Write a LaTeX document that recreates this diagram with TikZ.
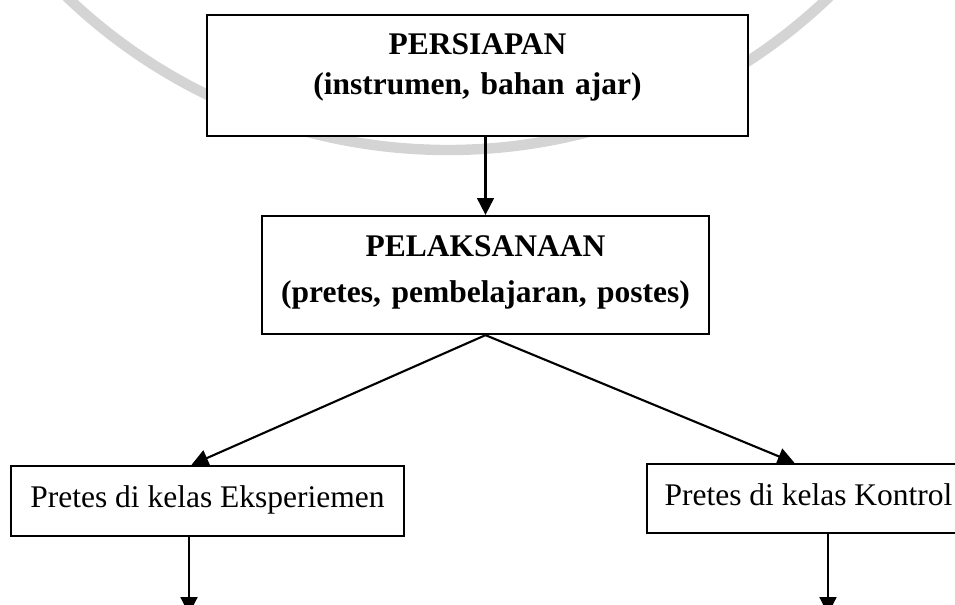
\documentclass[tikz,border=0pt]{standalone}
\usepackage{fontspec}
\setmainfont{Liberation Serif}
\usetikzlibrary{arrows.meta}
\usetikzlibrary{positioning}

\tikzset{
  kotak/.style={draw, line width=1.6pt, fill=white, inner sep=0pt, font=\fontsize{22.4}{28.4}\selectfont},
  judul/.style={kotak, align=center},
  panah/.style={line width=1.5pt, -{Triangle[length=0.42cm,width=0.42cm]}},
}

\begin{document}
\begin{tikzpicture}[x=0.025cm,y=-0.025cm]
\useasboundingbox (0,0) rectangle (955,605);
% watermark ring
\draw[black!17,line width=0.26cm] (448,-401) circle[radius=551];

\node[judul,text width=13.525cm,text height=1.0cm,text depth=2.025cm,font=\bfseries\fontsize{22.4}{28.4}\selectfont] (siap) at (477.5,75.5) {PERSIAPAN\\(instrumen, bahan ajar)};
\node[judul,text width=11.175cm,text height=1.025cm,text depth=1.925cm,font=\bfseries\fontsize{22.4}{32.7}\selectfont] (laksana) at (485.5,275) {PELAKSANAAN\\(pretes, pembelajaran, postes)};

\node[kotak,minimum width=9.825cm,text height=1.025cm,text depth=0.725cm] (eks) at (207.5,501) {Pretes di kelas Eksperiemen};
\node[kotak,minimum width=8.075cm,text height=1.025cm,text depth=0.7cm] (kon) at (808.5,498.5) {Pretes di kelas Kontrol};

\coordinate (ujungeks) at (189,614);
\coordinate (ujungkon) at (828,614);

\draw[panah] (siap.south -| laksana.north) -- (laksana.north);
\draw[panah] (laksana.south) -- ([xshift=-0.4cm]eks.north);
\draw[panah] (laksana.south) -- ([xshift=-0.35cm]kon.north);
\draw[panah] (eks.south -| ujungeks) -- (ujungeks);
\draw[panah] (kon.south -| ujungkon) -- (ujungkon);
\end{tikzpicture}
\end{document}
